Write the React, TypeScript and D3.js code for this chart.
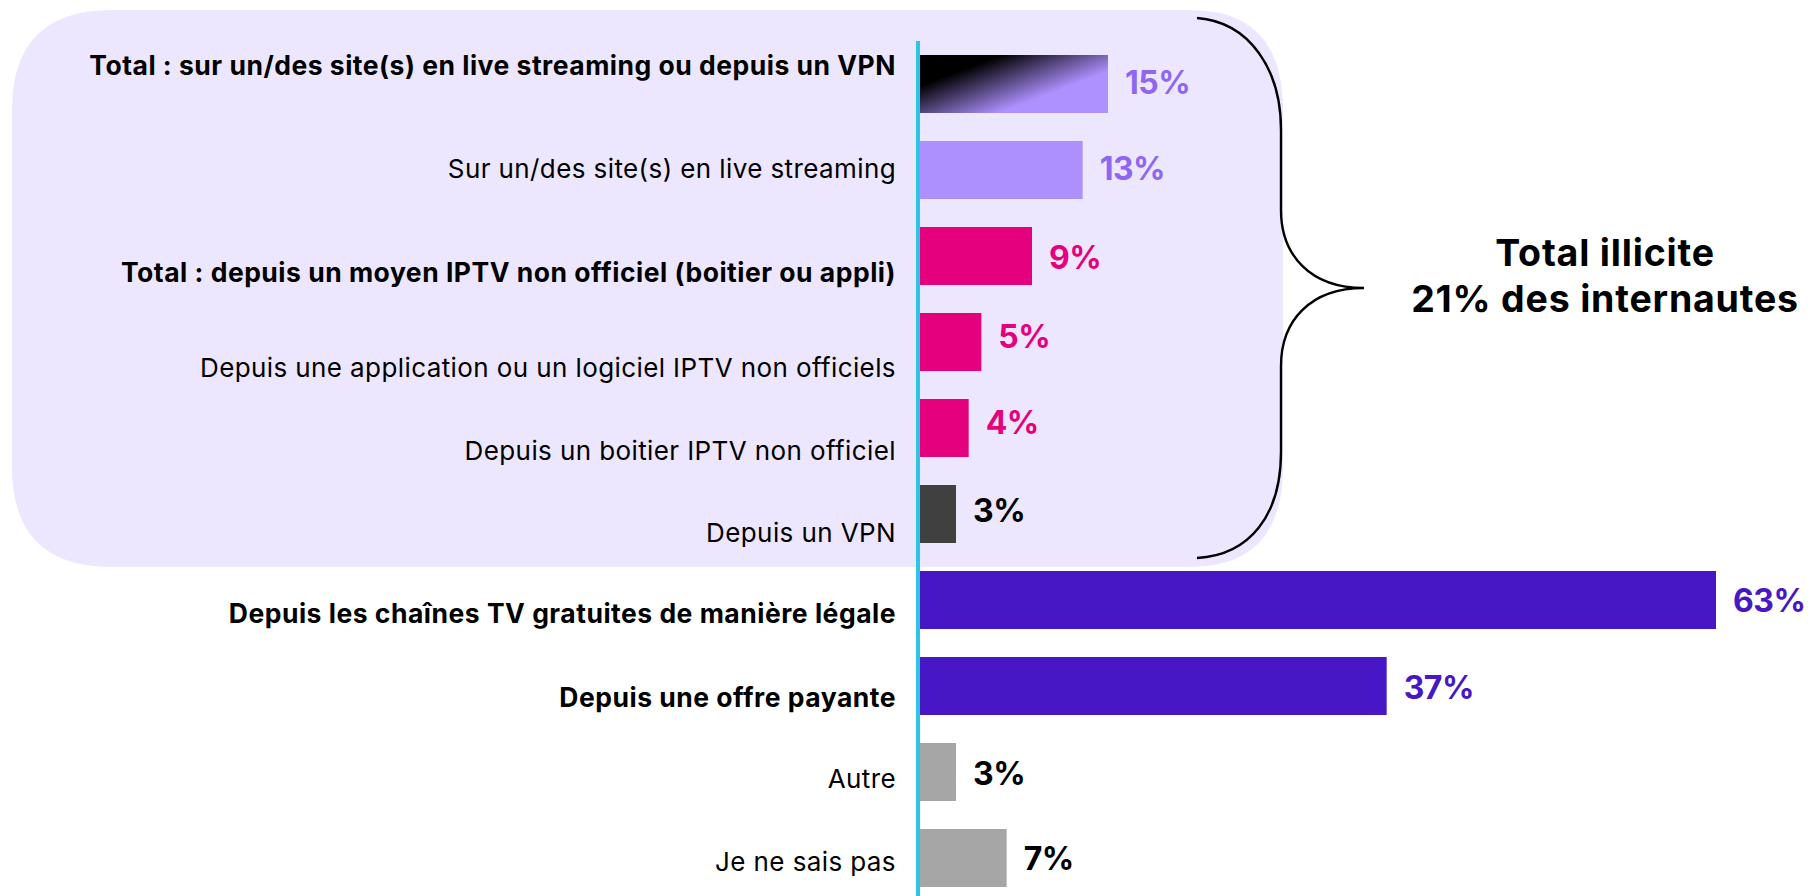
import React from "react";
import * as d3 from "d3";

const categories = [
  "Total : sur un/des site(s) en live streaming ou depuis un VPN",
  "Sur un/des site(s) en live streaming",
  "Total : depuis un moyen IPTV non officiel (boitier ou appli)",
  "Depuis une application ou un logiciel IPTV non officiels",
  "Depuis un boitier IPTV non officiel",
  "Depuis un VPN",
  "Depuis les chaînes TV gratuites de manière légale",
  "Depuis une offre payante",
  "Autre",
  "Je ne sais pas",
];
const values = [15, 13, 9, 5, 4, 3, 63, 37, 3, 7];
const boldRows = [true, false, true, false, false, false, true, true, false, false];
const barColors = ["url(#gradTotal)", "#AE90FD", "#E5007D", "#E5007D", "#E5007D", "#404040", "#4717C6", "#4717C6", "#A6A6A6", "#A6A6A6"];
const valueColors = ["#8F66F2", "#8F66F2", "#E5007D", "#E5007D", "#E5007D", "#000000", "#4717C6", "#4717C6", "#000000", "#000000"];
const annotationLines = ["Total illicite", "21% des internautes"];

// layout offsets (label baseline relative to bar top)
const labelDy = [19.5, 36.5, 54.5, 63.5, 60.5, 56.5, 51.5, 49.5, 44.5, 41.5];
const valueDy = [39, 39, 42, 35, 35, 37, 41, 42, 42, 41];

const FONT = "Inter, 'Noto Sans', sans-serif";

export default function App() {
  const x = d3.scaleLinear().domain([0, 63]).range([918, 1716]);
  const x0 = x(0);
  const y = d3
    .scaleBand<number>()
    .domain(d3.range(categories.length))
    .range([55 - 14, 55 - 14 + 86 * categories.length])
    .paddingInner(28 / 86)
    .paddingOuter(14 / 86);
  const bh = y.bandwidth();
  const y0 = y(0)!;

  const brace = d3.path();
  brace.moveTo(1197, 18);
  brace.bezierCurveTo(1250, 22, 1281, 70, 1281, 130);
  brace.lineTo(1281, 210);
  brace.bezierCurveTo(1281, 255, 1310, 288, 1364, 288);
  brace.bezierCurveTo(1310, 288, 1281, 321, 1281, 366);
  brace.lineTo(1281, 452);
  brace.bezierCurveTo(1281, 515, 1250, 555, 1197, 558);

  return (
    <svg
      width={1808}
      height={896}
      style={{ position: "absolute", left: 0, top: 0, background: "#fff" }}
    >
      <defs>
        <linearGradient
          id="gradTotal"
          gradientUnits="userSpaceOnUse"
          x1={x0 + 4}
          y1={y0 + bh * 0.52}
          x2={x0 + 23}
          y2={y0 + bh * 1.38}
        >
          <stop offset="0" stopColor="#000000" />
          <stop offset="1" stopColor="#AE90FF" />
        </linearGradient>
      </defs>
      <path
        d="M112,10 L1190,10 Q1283,10 1283,110 L1283,467 Q1283,567 1190,567 L112,567 Q12,567 12,467 L12,110 Q12,10 112,10 Z"
        fill="#ECE7FE"
      />
      <path d={brace.toString()} fill="none" stroke="#000" strokeWidth={2.4} />
      {categories.map((c, i) => {
        const by = y(i)!;
        return (
          <g key={i}>
            <rect x={x0} y={by} width={x(values[i]) - x0} height={bh} fill={barColors[i]} />
            <text
              x={896}
              y={by + labelDy[i]}
              textAnchor="end"
              fontFamily={FONT}
              fontSize={boldRows[i] ? 26.5 : 26}
              fontWeight={boldRows[i] ? 700 : 400}
              letterSpacing={boldRows[i] ? 0.5 : 0.4}
              fill="#000"
            >
              {c}
            </text>
            <text
              x={x(values[i]) + 17}
              y={by + valueDy[i]}
              fontFamily={FONT}
              fontSize={32}
              fontWeight={700}
              letterSpacing={-0.5}
              fill={valueColors[i]}
            >
              {values[i]}%
            </text>
          </g>
        );
      })}
      <line x1={918} x2={918} y1={41} y2={896} stroke="#2BC6E6" strokeWidth={4} />
      {annotationLines.map((t, i) => (
        <text
          key={i}
          x={1605}
          y={266 + i * 46}
          textAnchor="middle"
          fontFamily={FONT}
          fontSize={37.5}
          fontWeight={700}
          letterSpacing={0.8}
          fill="#000"
        >
          {t}
        </text>
      ))}
    </svg>
  );
}
